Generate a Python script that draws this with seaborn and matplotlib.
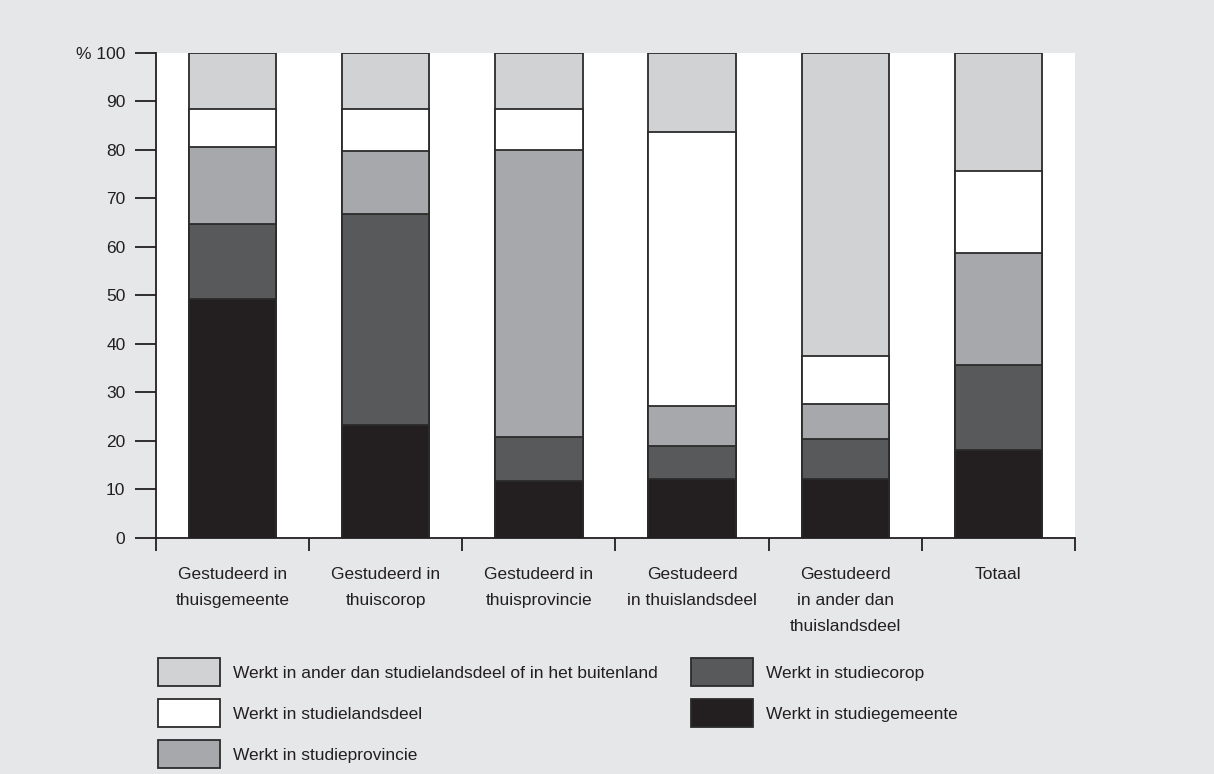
"""Stacked bars: werklocatie naar studielocatie."""

import matplotlib

matplotlib.use("Agg")

import matplotlib.pyplot as plt
import numpy as np
import pandas as pd
import seaborn as sns
from matplotlib import font_manager
from matplotlib.patches import Patch

categories = [
    "Gestudeerd in\nthuisgemeente",
    "Gestudeerd in\nthuiscorop",
    "Gestudeerd in\nthuisprovincie",
    "Gestudeerd\nin thuislandsdeel",
    "Gestudeerd\nin ander dan\nthuislandsdeel",
    "Totaal",
]

# shares per segment, bottom to top (%)
studiegemeente = [49.2, 23.2, 11.8, 12.2, 12.2, 18.1]
studiecorop = [15.6, 43.6, 9.0, 6.8, 8.2, 17.5]
studieprovincie = [15.8, 12.9, 59.2, 8.1, 7.3, 23.2]
studielandsdeel = [7.9, 8.7, 8.3, 56.5, 9.8, 16.9]
elders = [11.5, 11.6, 11.7, 16.4, 62.5, 24.3]

series_labels = [
    "Werkt in studiegemeente",
    "Werkt in studiecorop",
    "Werkt in studieprovincie",
    "Werkt in studielandsdeel",
    "Werkt in ander dan studielandsdeel of in het buitenland",
]
series_colors = ["#231f20", "#58595b", "#a7a8ab", "#ffffff", "#d1d2d4"]

ytick_values = list(range(0, 101, 10))
ytick_labels = [str(v) for v in ytick_values[:-1]] + ["% 100"]

sns.set_theme(style="ticks")
names = {f.name for f in font_manager.fontManager.ttflist}
if "Liberation Sans Narrow" in names:
    plt.rcParams["font.family"] = ["Liberation Sans Narrow", "DejaVu Sans"]
    FS = 15.5
else:
    plt.rcParams["font.family"] = ["Liberation Sans", "DejaVu Sans"]
    FS = 12.5

BG = "#e6e7e9"
EDGE = "#2b2b2b"
TXT = "#231f20"
PX = FS * 100 / 72  # font size in pixels

df = pd.DataFrame(
    {
        "cat": categories,
        series_labels[0]: studiegemeente,
        series_labels[1]: studiecorop,
        series_labels[2]: studieprovincie,
        series_labels[3]: studielandsdeel,
        series_labels[4]: elders,
    }
)
cum = df[series_labels].cumsum(axis=1)

fig = plt.figure(figsize=(12.14, 7.74), dpi=100, facecolor=BG)
ax = fig.add_axes([0.1285, 0.3049, 0.7570, 0.6270])
ax.set_facecolor("white")

# draw cumulative totals top-down so each layer covers the one above it
for label, color in reversed(list(zip(series_labels, series_colors))):
    sns.barplot(
        x=df["cat"], y=cum[label], ax=ax, color=color, width=0.57,
        edgecolor=EDGE, linewidth=1.3, saturation=1, order=categories,
    )

ax.set_xlim(-0.5, len(categories) - 0.5)
ax.set_ylim(0, 100)
ax.set_xlabel("")
ax.set_ylabel("")
ax.set_yticks(ytick_values)
ax.set_yticklabels(ytick_labels)
ax.set_xticks(range(len(categories)), labels=categories, linespacing=1.9)

sns.despine(ax=ax)
for side in ["left", "bottom"]:
    ax.spines[side].set_color(TXT)
    ax.spines[side].set_linewidth(1.3)

ax.tick_params(axis="y", direction="out", length=15, width=1.3, color=TXT,
               labelsize=FS, labelcolor=TXT, pad=7)
ax.tick_params(axis="x", which="major", length=0, labelsize=FS,
               labelcolor=TXT, pad=21)
ax.set_xticks(np.arange(-0.5, len(categories)), minor=True)
ax.tick_params(axis="x", which="minor", direction="out", length=9,
               width=1.3, color=TXT)

handles = {lab: Patch(facecolor=c, edgecolor=EDGE, linewidth=1.3)
           for lab, c in zip(series_labels, series_colors)}
col1 = [series_labels[4], series_labels[3], series_labels[2]]
col2 = [series_labels[1], series_labels[0]]
legend_kw = dict(
    loc="upper left", frameon=False, fontsize=FS, borderpad=0,
    borderaxespad=0, handlelength=62 / PX,
    handleheight=1.31 * 28 / PX, labelspacing=13 / PX,
    handletextpad=13 / PX, labelcolor=TXT,
)
fig.legend([handles[l] for l in col1], col1,
           bbox_to_anchor=(158 / 1214, 1 - 658 / 774), **legend_kw)
fig.legend([handles[l] for l in col2], col2,
           bbox_to_anchor=(691 / 1214, 1 - 658 / 774), **legend_kw)

fig.savefig("out.png", dpi=100, facecolor=BG)
